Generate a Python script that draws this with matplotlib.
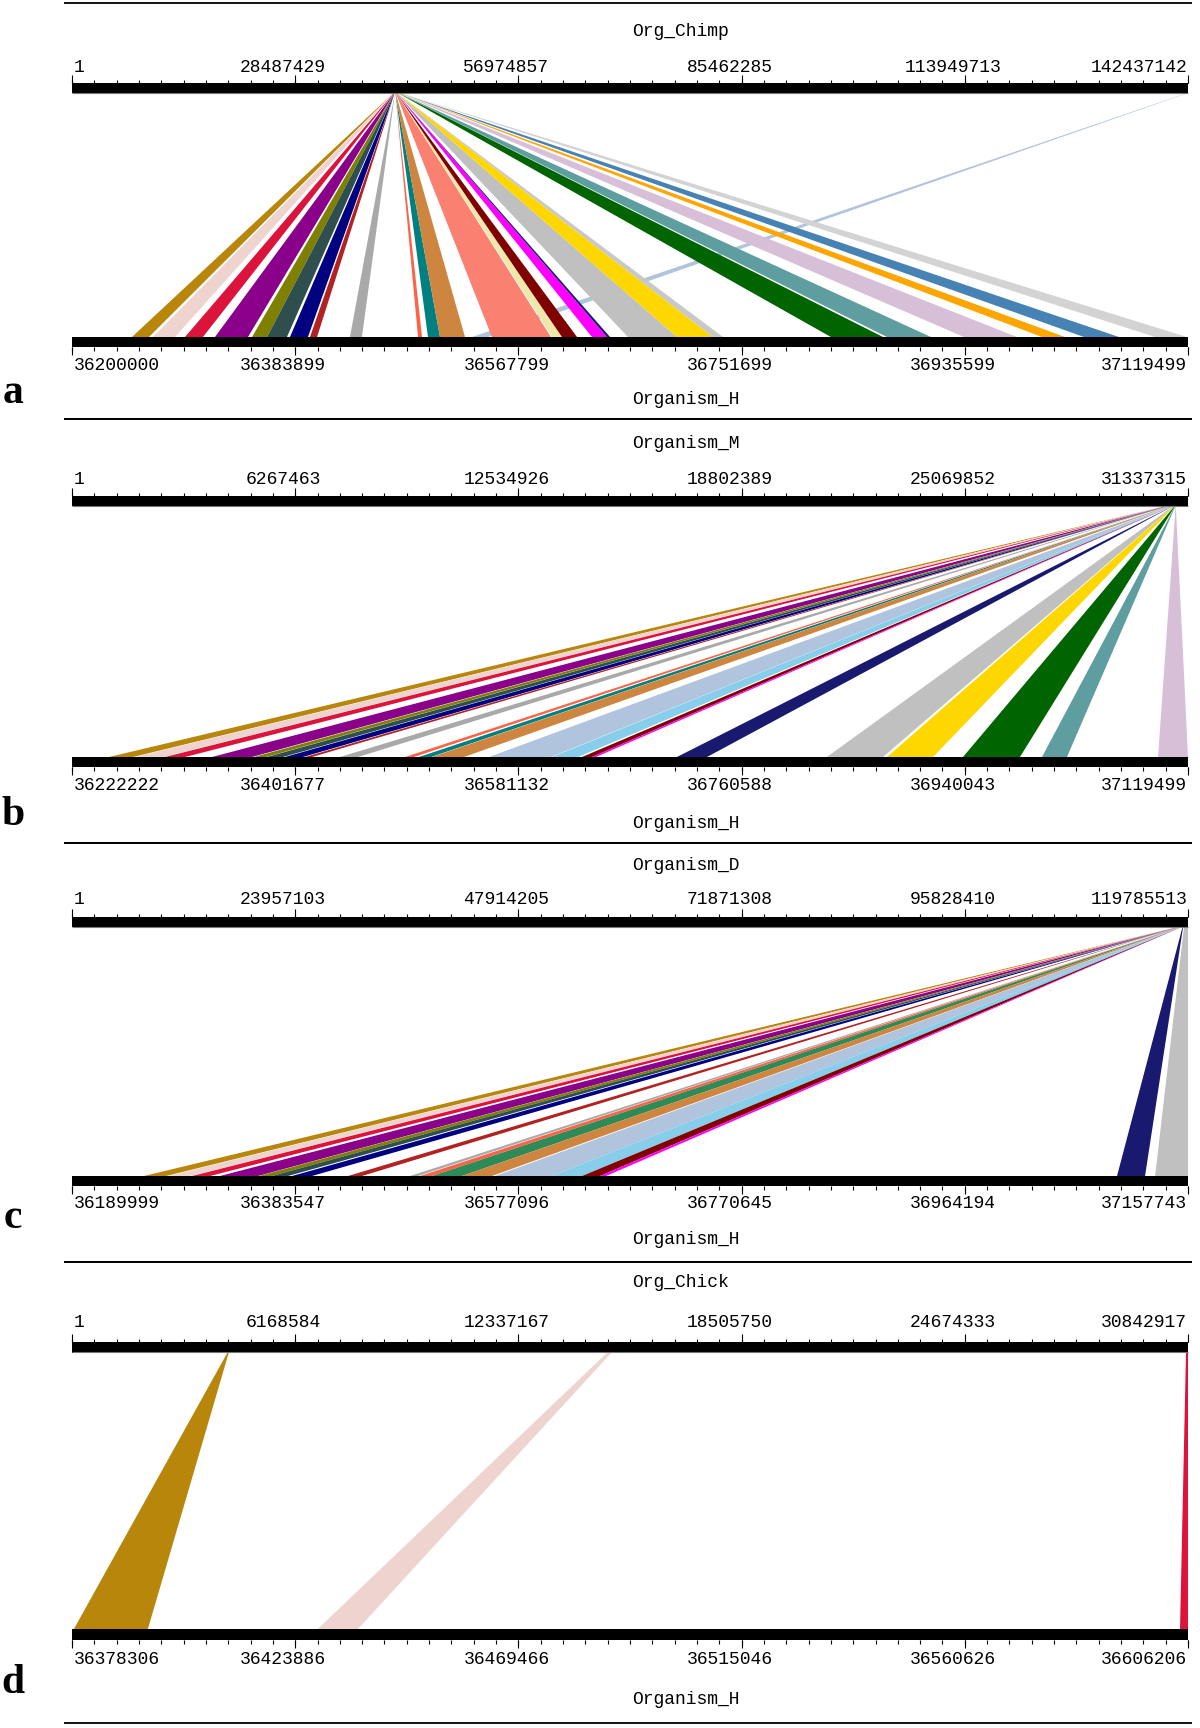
import matplotlib.pyplot as plt
from matplotlib.patches import Rectangle

W, H = 1200, 1728
X0, XW = 72, 1116          # pixel span of the chromosome bars
MONO = 'Liberation Mono'

# ---------------- panel a : Org_Chimp / Organism_H ----------------
a_top_name = 'Org_Chimp'
a_top_range = [1, 142437142]
a_bot_range = [36200000, 37119499]
a_top_labels = ['1', '28487429', '56974857', '85462285', '113949713', '142437142']
a_bot_labels = ['36200000', '36383899', '36567799', '36751699', '36935599', '37119499']
a_colors = ['darkgoldenrod', '#efd3cf', 'crimson', 'darkmagenta', 'olive', 'darkslategray',
            'navy', 'firebrick', 'darkgray', 'tomato', 'teal', 'peru', 'lightsteelblue',
            'salmon', 'palegoldenrod', 'maroon', 'magenta', 'midnightblue', 'silver', 'gold',
            '#c8c8c8', 'darkgreen', 'cadetblue', 'thistle', 'orange', 'steelblue', 'lightgray']
a_o_start = [41029400, 41046700, 41073100, 41097800, 41128300, 41140700, 41159600, 41176100,
             41209000, 41265100, 41273300, 41283200, 142330000, 41326000, 41375500, 41383700,
             41408400, 41420800, 41438100, 41478500, 41508100, 41605300, 41651500, 41714900,
             41779200, 41813800, 41872300]
a_o_end = [41043400, 41064900, 41087900, 41125000, 41140700, 41157100, 41174400, 41181900,
           41218900, 41268400, 41283200, 41303800, 142437142, 41374600, 41383700, 41396100,
           41420800, 41423300, 41478500, 41508100, 41516400, 41648200, 41687700, 41758600,
           41798100, 41842600, 41898600]
a_h_start = [36249400, 36266700, 36293100, 36317800, 36348300, 36360700, 36379600, 36396100,
             36429000, 36485100, 36493300, 36503200, 36529600, 36546000, 36595500, 36603700,
             36628400, 36640800, 36658100, 36698500, 36728100, 36825300, 36871500, 36934900,
             36999200, 37033800, 37092300]
a_h_end = [36263400, 36284900, 36307900, 36345000, 36360700, 36377100, 36394400, 36401900,
           36438900, 36488400, 36503200, 36523800, 36542700, 36594600, 36603700, 36616100,
           36640800, 36643300, 36698500, 36728100, 36736400, 36868200, 36907700, 36978600,
           37018100, 37062600, 37118600]

# ---------------- panel b : Organism_M / Organism_H ----------------
b_top_name = 'Organism_M'
b_top_range = [1, 31337315]
b_bot_range = [36222222, 37119499]
b_top_labels = ['1', '6267463', '12534926', '18802389', '25069852', '31337315']
b_bot_labels = ['36222222', '36401677', '36581132', '36760588', '36940043', '37119499']
b_colors = ['darkgoldenrod', '#efd3cf', 'crimson', 'darkmagenta', 'olive', 'darkslategray',
            'navy', 'firebrick', 'darkgray', 'tomato', 'teal', 'peru', 'lightsteelblue',
            'skyblue', 'maroon', 'magenta', 'midnightblue', 'silver', 'gold', 'darkgreen',
            'cadetblue', 'thistle']
b_o_start = [30720000, 30732000, 30744000, 30756000, 30774000, 30780000, 30789000, 30799000,
             30810000, 30830000, 30835000, 30841000, 30860000, 30886000, 30898000, 30902000,
             30912000, 30930000, 30946000, 30962000, 30979000, 30990000]
b_o_end = [30730000, 30742000, 30752000, 30772000, 30779000, 30787000, 30797000, 30802000,
           30816000, 30833000, 30840000, 30853000, 30885000, 30896000, 30902000, 30904000,
           30918000, 30945000, 30958000, 30976000, 30985000, 30996000]
b_h_start = [36252000, 36272900, 36297000, 36334800, 36368600, 36379000, 36393500, 36409600,
             36437700, 36490000, 36501200, 36511700, 36557500, 36608100, 36632300, 36640300,
             36708600, 36829200, 36877500, 36938600, 37002100, 37095400]
b_h_end = [36271300, 36295400, 36313100, 36366900, 36378200, 36391900, 36407900, 36415200,
           36452200, 36497200, 36510900, 36537400, 36607300, 36629000, 36640300, 36643500,
           36732800, 36874300, 36914500, 36984400, 37022200, 37119499]

# ---------------- panel c : Organism_D / Organism_H ----------------
c_top_name = 'Organism_D'
c_top_range = [1, 119785513]
c_bot_range = [36189999, 37157743]
c_top_labels = ['1', '23957103', '47914205', '71871308', '95828410', '119785513']
c_bot_labels = ['36189999', '36383547', '36577096', '36770645', '36964194', '37157743']
c_colors = ['darkgoldenrod', '#efd3cf', 'crimson', 'darkmagenta', 'olive', 'darkslategray',
            'navy', 'firebrick', 'darkgray', 'tomato', 'seagreen', 'peru', 'lightsteelblue',
            'skyblue', 'maroon', 'magenta', 'midnightblue', 'silver']
c_o_start = [118720000, 118742000, 118764000, 118784000, 118818000, 118828000, 118845000,
             118890000, 118935000, 118944000, 118954000, 118980000, 119009000, 119058000,
             119084000, 119100000, 119200000, 119360000]
c_o_end = [118740000, 118762000, 118780000, 118816000, 118828000, 118842000, 118862000,
           118902000, 118942000, 118954000, 118980000, 119006000, 119058000, 119084000,
           119100000, 119105000, 119260000, 119785000]
c_h_start = [36252400, 36273300, 36294100, 36318300, 36352200, 36363400, 36380800, 36429300,
             36483100, 36491800, 36502200, 36528200, 36556800, 36606300, 36632300, 36647900,
             37096200, 37129200]
c_h_end = [36271500, 36292300, 36309700, 36351300, 36363400, 36377300, 36398100, 36441500,
           36490100, 36502200, 36528200, 36554200, 36606300, 36632300, 36647900, 36653100,
           37120500, 37157743]

# ---------------- panel d : Org_Chick / Organism_H ----------------
d_top_name = 'Org_Chick'
d_top_range = [1, 30842917]
d_bot_range = [36378306, 36606206]
d_top_labels = ['1', '6168584', '12337167', '18505750', '24674333', '30842917']
d_bot_labels = ['36378306', '36423886', '36469466', '36515046', '36560626', '36606206']
d_colors = ['darkgoldenrod', '#efd3cf', 'crimson']
d_o_start = [4290000, 14780000, 30790000]
d_o_end = [4330000, 14900000, 30842917]
d_h_start = [36378700, 36428500, 36604600]
d_h_end = [36393800, 36436700, 36606206]

# pixel layout of each panel (y measured from the top of the image)
layouts = [
    dict(rule_top=3, rule_bot=419, title=32, top_lab=67, top_bar=83, bot_bar=337, bar_h=10,
         bot_lab=365, org_h=400, letter='a', letter_y=403),
    dict(rule_top=419, rule_bot=843, title=443, top_lab=479, top_bar=496, bot_bar=757, bar_h=10,
         bot_lab=786, org_h=823, letter='b', letter_y=825),
    dict(rule_top=843, rule_bot=1262, title=865, top_lab=900, top_bar=917, bot_bar=1176, bar_h=10,
         bot_lab=1204, org_h=1240, letter='c', letter_y=1228),
    dict(rule_top=1262, rule_bot=1723, title=1283, top_lab=1323, top_bar=1342, bot_bar=1629,
         bar_h=11, bot_lab=1660, org_h=1700, letter='d', letter_y=1693),
]

panels = [
    (a_top_name, a_top_range, a_bot_range, a_top_labels, a_bot_labels, a_colors,
     a_o_start, a_o_end, a_h_start, a_h_end),
    (b_top_name, b_top_range, b_bot_range, b_top_labels, b_bot_labels, b_colors,
     b_o_start, b_o_end, b_h_start, b_h_end),
    (c_top_name, c_top_range, c_bot_range, c_top_labels, c_bot_labels, c_colors,
     c_o_start, c_o_end, c_h_start, c_h_end),
    (d_top_name, d_top_range, d_bot_range, d_top_labels, d_bot_labels, d_colors,
     d_o_start, d_o_end, d_h_start, d_h_end),
]

fig = plt.figure(figsize=(W / 100, H / 100), dpi=100)
fig.patch.set_facecolor('white')

major = [i / 5 for i in range(6)]
minor = [i / 50 for i in range(51)]
shift = 12 / XW   # middle tick labels sit a bit left of their tick

for L, (top_name, top_rng, bot_rng, top_labels, bot_labels, colors,
        o_s, o_e, h_s, h_e) in zip(layouts, panels):
    ax = fig.add_axes([X0 / W, 1 - L['rule_bot'] / H, XW / W,
                       (L['rule_bot'] - L['rule_top']) / H])
    ax.set_xlim(0, 1)
    ax.set_ylim(L['rule_bot'], L['rule_top'])
    ax.axis('off')

    yt = L['top_bar'] + L['bar_h']
    yb = L['bot_bar']

    def ft(v):
        return (v - top_rng[0]) / (top_rng[1] - top_rng[0])

    def fb(v):
        return (v - bot_rng[0]) / (bot_rng[1] - bot_rng[0])

    # synteny bands
    for s0, s1, e0, e1, c in zip(o_s, o_e, h_s, h_e, colors):
        ax.fill([ft(s0), ft(s1), fb(e1), fb(e0)], [yt, yt, yb, yb],
                color=c, lw=0, clip_on=False)

    # chromosome bars
    for y in (L['top_bar'], L['bot_bar']):
        ax.add_patch(Rectangle((0, y), 1, L['bar_h'], color='black', lw=0, clip_on=False))
    ax.hlines(yt - 0.5, 0, 1, color='#777777', lw=0.8, clip_on=False)

    # ticks
    ax.vlines(minor, L['top_bar'] - 3, L['top_bar'], color='black', lw=0.8, clip_on=False)
    ax.vlines(major, L['top_bar'] - 8, L['top_bar'], color='black', lw=0.8, clip_on=False)
    bb = L['bot_bar'] + L['bar_h']
    ax.vlines(minor, bb, bb + 4, color='black', lw=0.8, clip_on=False)
    ax.vlines(major, bb, bb + 8, color='black', lw=0.8, clip_on=False)

    # tick labels
    for i, x in enumerate(major):
        if i == 0:
            xx, ha = x + 2 / XW, 'left'
        elif i == len(major) - 1:
            xx, ha = x - 1 / XW, 'right'
        else:
            xx, ha = x - shift, 'center'
        ax.text(xx, L['top_lab'], top_labels[i], ha=ha, va='center',
                family=MONO, fontsize=13, clip_on=False)
        ax.text(xx, L['bot_lab'], bot_labels[i], ha=ha, va='center',
                family=MONO, fontsize=13, clip_on=False)

    # organism names
    ax.text(0.5 + 2 / XW, L['title'], top_name, ha='left', va='center',
            family=MONO, fontsize=13)
    ax.text(0.5 + 2 / XW, L['org_h'], 'Organism_H', ha='left', va='center',
            family=MONO, fontsize=13, clip_on=False)

    # separating rules
    ax.hlines([L['rule_top'], L['rule_bot']], -8 / XW, 1120 / XW,
              color='black', lw=1.3, clip_on=False)

    fig.text(13 / W, 1 - L['letter_y'] / H, L['letter'], ha='center', va='baseline',
             family='Liberation Serif', fontweight='bold', fontsize=30)

fig.savefig('out.png', dpi=100, facecolor='white')
